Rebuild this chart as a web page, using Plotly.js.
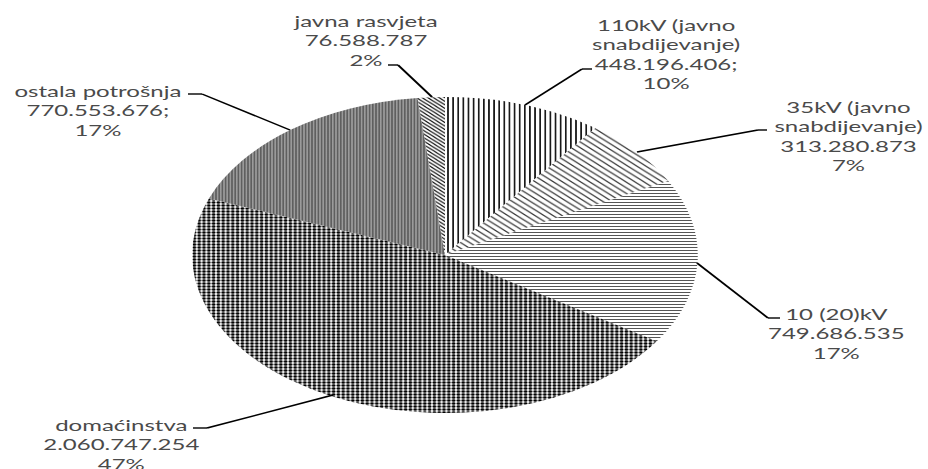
<!DOCTYPE html>
<html>
<head>
<meta charset="utf-8">
<script src="https://cdn.plot.ly/plotly-3.0.1.min.js"></script>
<style>
  html, body { margin: 0; padding: 0; background: #fff; }
  #wrap { width: 928px; height: 469px; overflow: hidden; position: relative; }
  #chart { width: 580px; height: 469px; transform: scaleX(1.6); transform-origin: 0 0; }
</style>
</head>
<body>
<div id="wrap"><div id="chart"></div></div>
<script>
// ---- data ----
const categories = ["110kV (javno snabdijevanje)", "35kV (javno snabdijevanje)", "10 (20)kV",
                    "domaćinstva", "ostala potrošnja", "javna rasvjeta"];
const values = [448196406, 313280873, 749686535, 2060747254, 770553676, 76588787];
const valueSuffix = [";", "", "", "", ";", ""];

// ---- styling / layout (reference pixel positions) ----
const W = 928, H = 469;
const patShapes = ["|", "\\", "-", ".", ".", "\\"];
const patFg = ["#000000", "#333333", "#555555", "#000000", "#333333", "#000000"];
const patBg = ["#ffffff", "#ffffff", "#ffffff", "#ffffff", "#b5b5b5", "#ffffff"];
const patSize = [3.2, 4, 3, 3, 2, 2.5];
const patSolid = [0.3, 0.25, 0.35, 0.55, 0.5, 0.35];

// label block centres (reference pixels)
const labelPos = [[667, 54], [848, 137], [836, 333], [122, 444], [97, 111], [365, 41]];
// leader lines: polyline points (reference pixels)
const leaders = [
  [[592, 69], [582, 69], [525, 105]],
  [[767, 130], [758, 130], [637, 152]],
  [[780, 318], [768, 318], [697, 263]],
  [[193, 428], [207, 428], [333, 395]],
  [[188, 94], [202, 94], [290, 130]],
  [[388, 65], [398, 65], [432, 97]]
];

function fmt(n) {
  return String(n).replace(/\B(?=(\d{3})+(?!\d))/g, ".");
}
const total = values.reduce((a, b) => a + b, 0);
const px = x => x / W, py = y => 1 - y / H;

const annotations = categories.map((c, i) => ({
  xref: "paper", yref: "paper",
  x: px(labelPos[i][0]), y: py(labelPos[i][1]),
  xanchor: "center", yanchor: "middle", align: "center",
  showarrow: false,
  text: c.replace(" snabdijevanje", "<br>snabdijevanje") + "<br>" + fmt(values[i]) + valueSuffix[i] +
        "<br>" + Math.round(values[i] / total * 100) + "%",
  font: { family: "Lato, 'Open Sans', sans-serif", size: 15, color: "#4a4a4a" }
}));

const shapes = [];
leaders.forEach(pts => {
  for (let k = 0; k < pts.length - 1; k++) {
    shapes.push({
      type: "line", xref: "paper", yref: "paper",
      x0: px(pts[k][0]), y0: py(pts[k][1]), x1: px(pts[k + 1][0]), y1: py(pts[k + 1][1]),
      line: { color: "#000000", width: 1.4 }
    });
  }
});

// pie geometry: centre (445,255), radius 158 px vertically; div is 580 wide, stretched 1.6x
const cx = 445 / W, r = 158;
const trace = {
  type: "pie",
  labels: categories,
  values: values,
  sort: false,
  direction: "clockwise",
  rotation: 0,
  textinfo: "none",
  hoverinfo: "label+value+percent",
  showlegend: false,
  domain: { x: [cx - r / 580, cx + r / 580], y: [py(413), py(97)] },
  marker: {
    colors: patBg,
    line: { width: 0 },
    pattern: { shape: patShapes, fgcolor: patFg, bgcolor: patBg, size: patSize, solidity: patSolid, fillmode: "replace" }
  }
};

Plotly.newPlot("chart", [trace], {
  width: 580, height: 469,
  margin: { l: 0, r: 0, t: 0, b: 0 },
  paper_bgcolor: "#ffffff",
  plot_bgcolor: "#ffffff",
  showlegend: false,
  annotations: annotations,
  shapes: shapes
}, { displayModeBar: false, staticPlot: true });
</script>
</body>
</html>
